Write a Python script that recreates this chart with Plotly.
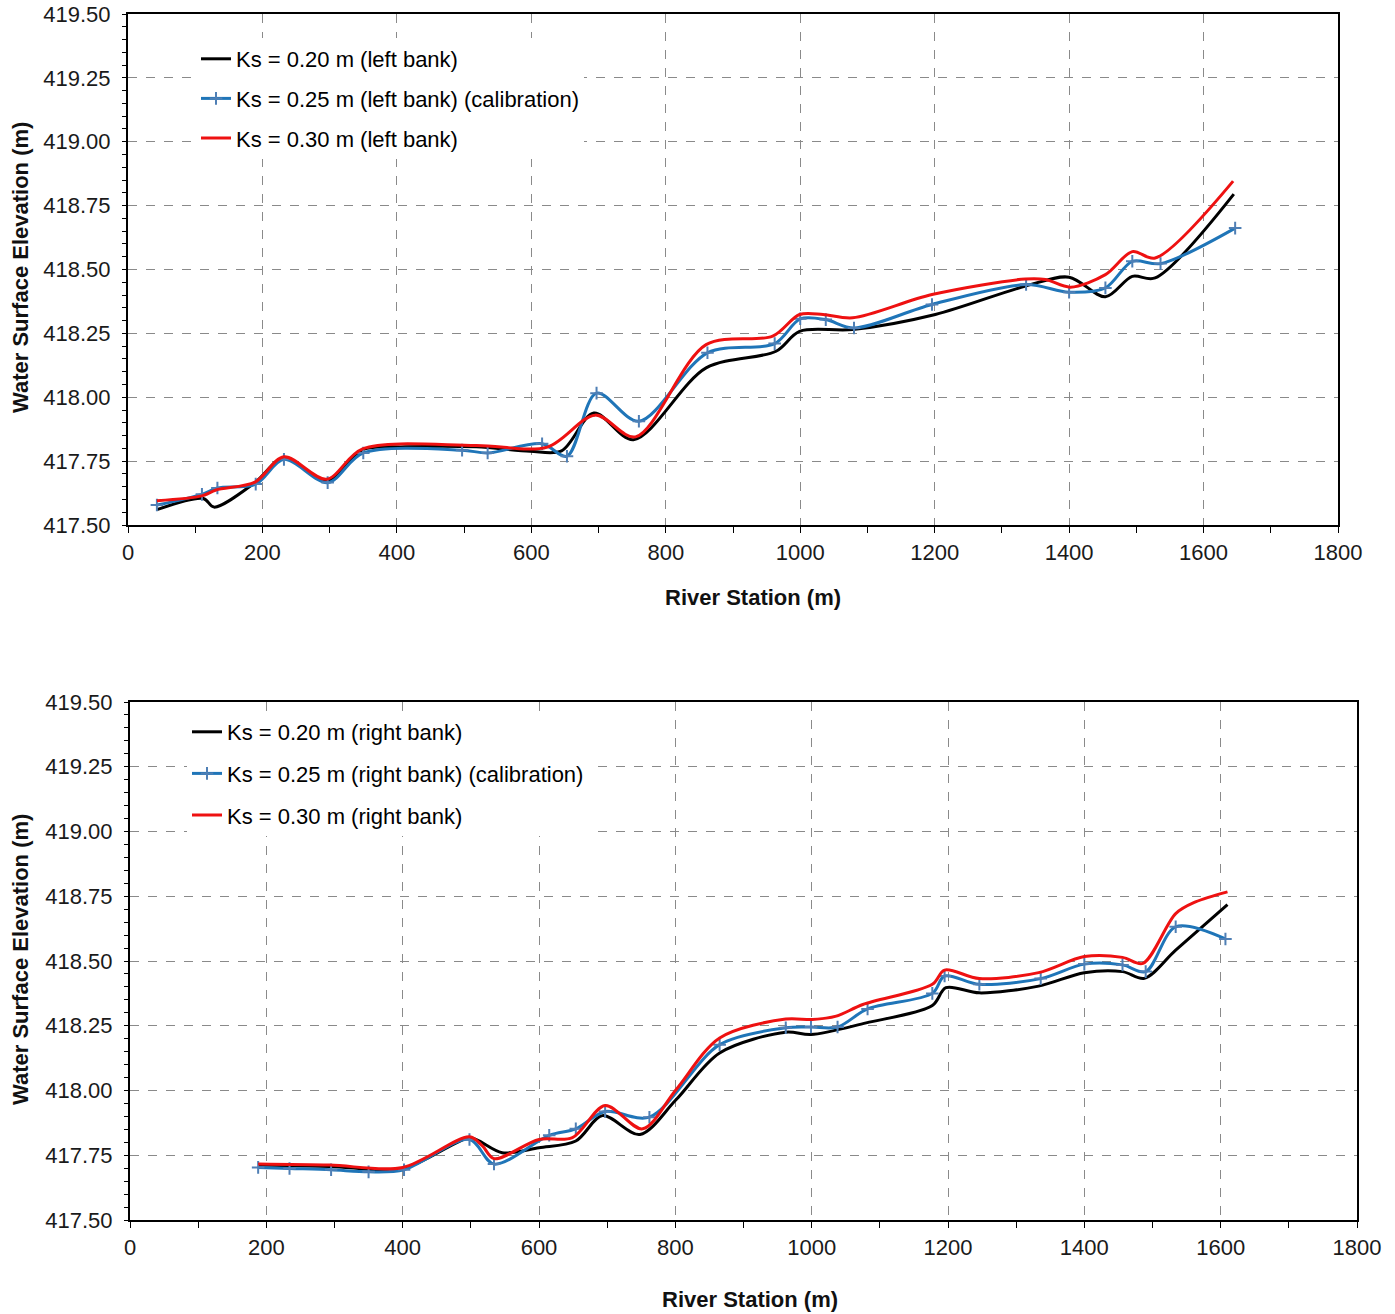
import plotly.graph_objects as go

# ---------------- data: left bank (top chart) ----------------
top_k20_x = [43, 112, 128, 189, 232, 295, 349, 412, 518, 598, 645, 693, 752, 860, 964, 999, 1078, 1201, 1335, 1400, 1454, 1494, 1528, 1645]
top_k20_y = [417.560, 417.604, 417.570, 417.666, 417.763, 417.672, 417.795, 417.806, 417.806, 417.789, 417.790, 417.938,
             417.834, 418.115, 418.180, 418.258, 418.265, 418.324, 418.435, 418.470, 418.393, 418.473, 418.467, 418.795]

top_k25_x = [43, 110, 133, 190, 232, 297, 350, 497, 535, 616, 653, 697, 760, 862, 962, 1000, 1038, 1080, 1196, 1336, 1400, 1454, 1494, 1536, 1647]
top_k25_y = [417.578, 417.620, 417.645, 417.660, 417.757, 417.666, 417.782, 417.793, 417.782, 417.818, 417.769, 418.016,
             417.906, 418.174, 418.210, 418.307, 418.304, 418.271, 418.363, 418.441, 418.411, 418.428, 418.532, 418.523, 418.662]

top_k30_x = [43, 110, 131, 189, 232, 295, 349, 518, 624, 695, 755, 860, 959, 999, 1034, 1078, 1196, 1335, 1365, 1402, 1454, 1494, 1528, 1644]
top_k30_y = [417.595, 417.614, 417.637, 417.668, 417.767, 417.679, 417.798, 417.811, 417.805, 417.930, 417.845, 418.206,
             418.239, 418.324, 418.324, 418.311, 418.402, 418.463, 418.461, 418.431, 418.480, 418.570, 418.545, 418.846]

# ---------------- data: right bank (bottom chart) ----------------
bot_k20_x = [188, 293, 400, 498, 512, 546, 600, 654, 693, 748, 801, 865, 962, 999, 1080, 1177, 1197, 1246, 1333, 1400, 1456, 1488, 1534, 1610]
bot_k20_y = [417.712, 417.707, 417.699, 417.818, 417.805, 417.760, 417.779, 417.805, 417.903, 417.830, 417.964, 418.145,
             418.225, 418.216, 418.261, 418.328, 418.397, 418.377, 418.403, 418.455, 418.459, 418.433, 418.542, 418.718]

bot_k25_x = [188, 234, 295, 350, 402, 498, 534, 615, 654, 697, 762, 865, 962, 999, 1038, 1082, 1177, 1195, 1246, 1336, 1400, 1456, 1490, 1534, 1607]
bot_k25_y = [417.703, 417.699, 417.694, 417.686, 417.694, 417.811, 417.716, 417.827, 417.852, 417.919, 417.897, 418.177,
             418.242, 418.245, 418.245, 418.315, 418.375, 418.442, 418.410, 418.432, 418.488, 418.485, 418.459, 418.632, 418.585]

bot_k30_x = [188, 293, 400, 498, 517, 534, 600, 649, 697, 752, 801, 865, 962, 1001, 1036, 1075, 1177, 1195, 1246, 1333, 1400, 1456, 1486, 1534, 1563, 1610]
bot_k30_y = [417.716, 417.712, 417.703, 417.821, 417.786, 417.737, 417.811, 417.818, 417.942, 417.852, 418.003, 418.203,
             418.276, 418.274, 418.287, 418.332, 418.410, 418.465, 418.432, 418.455, 418.517, 418.514, 418.491, 418.683, 418.728, 418.767]

top_names = ["Ks = 0.20 m (left bank)", "Ks = 0.25 m (left bank) (calibration)", "Ks = 0.30 m (left bank)"]
bot_names = ["Ks = 0.20 m (right bank)", "Ks = 0.25 m (right bank) (calibration)", "Ks = 0.30 m (right bank)"]

BLACK = "#000000"
BLUE = "#1F75B8"
RED = "#EE1111"
FONT = "Liberation Sans, Arial, sans-serif"

fig = go.Figure()


def add_series(x, y, name, color, xa, ya, legend, group, markers=False):
    kw = dict(mode="lines")
    if markers:
        kw = dict(mode="lines+markers",
                  marker=dict(symbol="cross-thin", size=9, color="#4F7FB5",
                              line=dict(width=2, color="#4F7FB5")))
    fig.add_trace(go.Scatter(x=x, y=y, name=name, xaxis=xa, yaxis=ya,
                             line=dict(color=color, width=3, shape="spline", smoothing=0.9),
                             legend=legend, legendgroup=group, **kw))


add_series(top_k20_x, top_k20_y, top_names[0], BLACK, "x", "y", "legend", "t1")
add_series(top_k25_x, top_k25_y, top_names[1], BLUE, "x", "y", "legend", "t2", markers=True)
add_series(top_k30_x, top_k30_y, top_names[2], RED, "x", "y", "legend", "t3")

add_series(bot_k20_x, bot_k20_y, bot_names[0], BLACK, "x2", "y2", "legend2", "b1")
add_series(bot_k25_x, bot_k25_y, bot_names[1], BLUE, "x2", "y2", "legend2", "b2", markers=True)
add_series(bot_k30_x, bot_k30_y, bot_names[2], RED, "x2", "y2", "legend2", "b3")

W, H = 1395, 1314


def xax(domain, anchor):
    return dict(domain=domain, anchor=anchor, range=[0, 1800], dtick=200, tick0=0,
                showline=True, linecolor="black", linewidth=2, mirror=True,
                ticks="outside", ticklen=6, tickcolor="black", tickwidth=1,
                minor=dict(dtick=100, ticks="outside", ticklen=6, tickcolor="black", showgrid=False),
                showgrid=True, gridcolor="#8a8a8a", griddash="dash", gridwidth=1,
                zeroline=False, tickfont=dict(family=FONT, size=22, color="#1a1a1a"),
                ticklabelstandoff=1)


def yax(domain, anchor):
    return dict(domain=domain, anchor=anchor, range=[417.5, 419.5], dtick=0.25, tick0=417.5,
                tickformat=".2f",
                showline=True, linecolor="black", linewidth=2, mirror=True,
                ticks="outside", ticklen=4, tickcolor="black", tickwidth=1,
                minor=dict(dtick=0.05, ticks="outside", ticklen=4, tickcolor="black", showgrid=False),
                showgrid=True, gridcolor="#8a8a8a", griddash="dash", gridwidth=1,
                zeroline=False, tickfont=dict(family=FONT, size=22, color="#1a1a1a"),
                ticklabelstandoff=7)


fig.update_layout(
    width=W, height=H,
    margin=dict(l=0, r=0, t=0, b=0, pad=0, autoexpand=False),
    paper_bgcolor="white", plot_bgcolor="white",
    font=dict(family=FONT, color="black"),
    xaxis=xax([128 / W, 1338 / W], "y"),
    yaxis=yax([1 - 525 / H, 1 - 14 / H], "x"),
    xaxis2=xax([130 / W, 1357 / W], "y2"),
    yaxis2=yax([1 - 1220 / H, 1 - 702 / H], "x2"),
    legend=dict(x=196 / W, y=1 - 38 / H, xanchor="left", yanchor="top",
                bgcolor="white", borderwidth=0, tracegroupgap=8,
                font=dict(family=FONT, size=22, color="black")),
    legend2=dict(x=187 / W, y=1 - 711 / H, xanchor="left", yanchor="top",
                 bgcolor="white", borderwidth=0, tracegroupgap=10,
                 font=dict(family=FONT, size=22, color="black")),
    annotations=[
        dict(text="<b>River Station (m)</b>", x=753 / W, y=1 - 597 / H, xref="paper", yref="paper",
             xanchor="center", yanchor="middle", showarrow=False,
             font=dict(family=FONT, size=22, color="#111")),
        dict(text="<b>River Station (m)</b>", x=750 / W, y=1 - 1299 / H, xref="paper", yref="paper",
             xanchor="center", yanchor="middle", showarrow=False,
             font=dict(family=FONT, size=22, color="#111")),
        dict(text="<b>Water Surface Elevation (m)</b>", x=20 / W, y=1 - 268 / H, xref="paper", yref="paper",
             xanchor="center", yanchor="middle", showarrow=False, textangle=-90,
             font=dict(family=FONT, size=22, color="#111")),
        dict(text="<b>Water Surface Elevation (m)</b>", x=20 / W, y=1 - 960 / H, xref="paper", yref="paper",
             xanchor="center", yanchor="middle", showarrow=False, textangle=-90,
             font=dict(family=FONT, size=22, color="#111")),
    ],
)

fig.write_html("out.html")
